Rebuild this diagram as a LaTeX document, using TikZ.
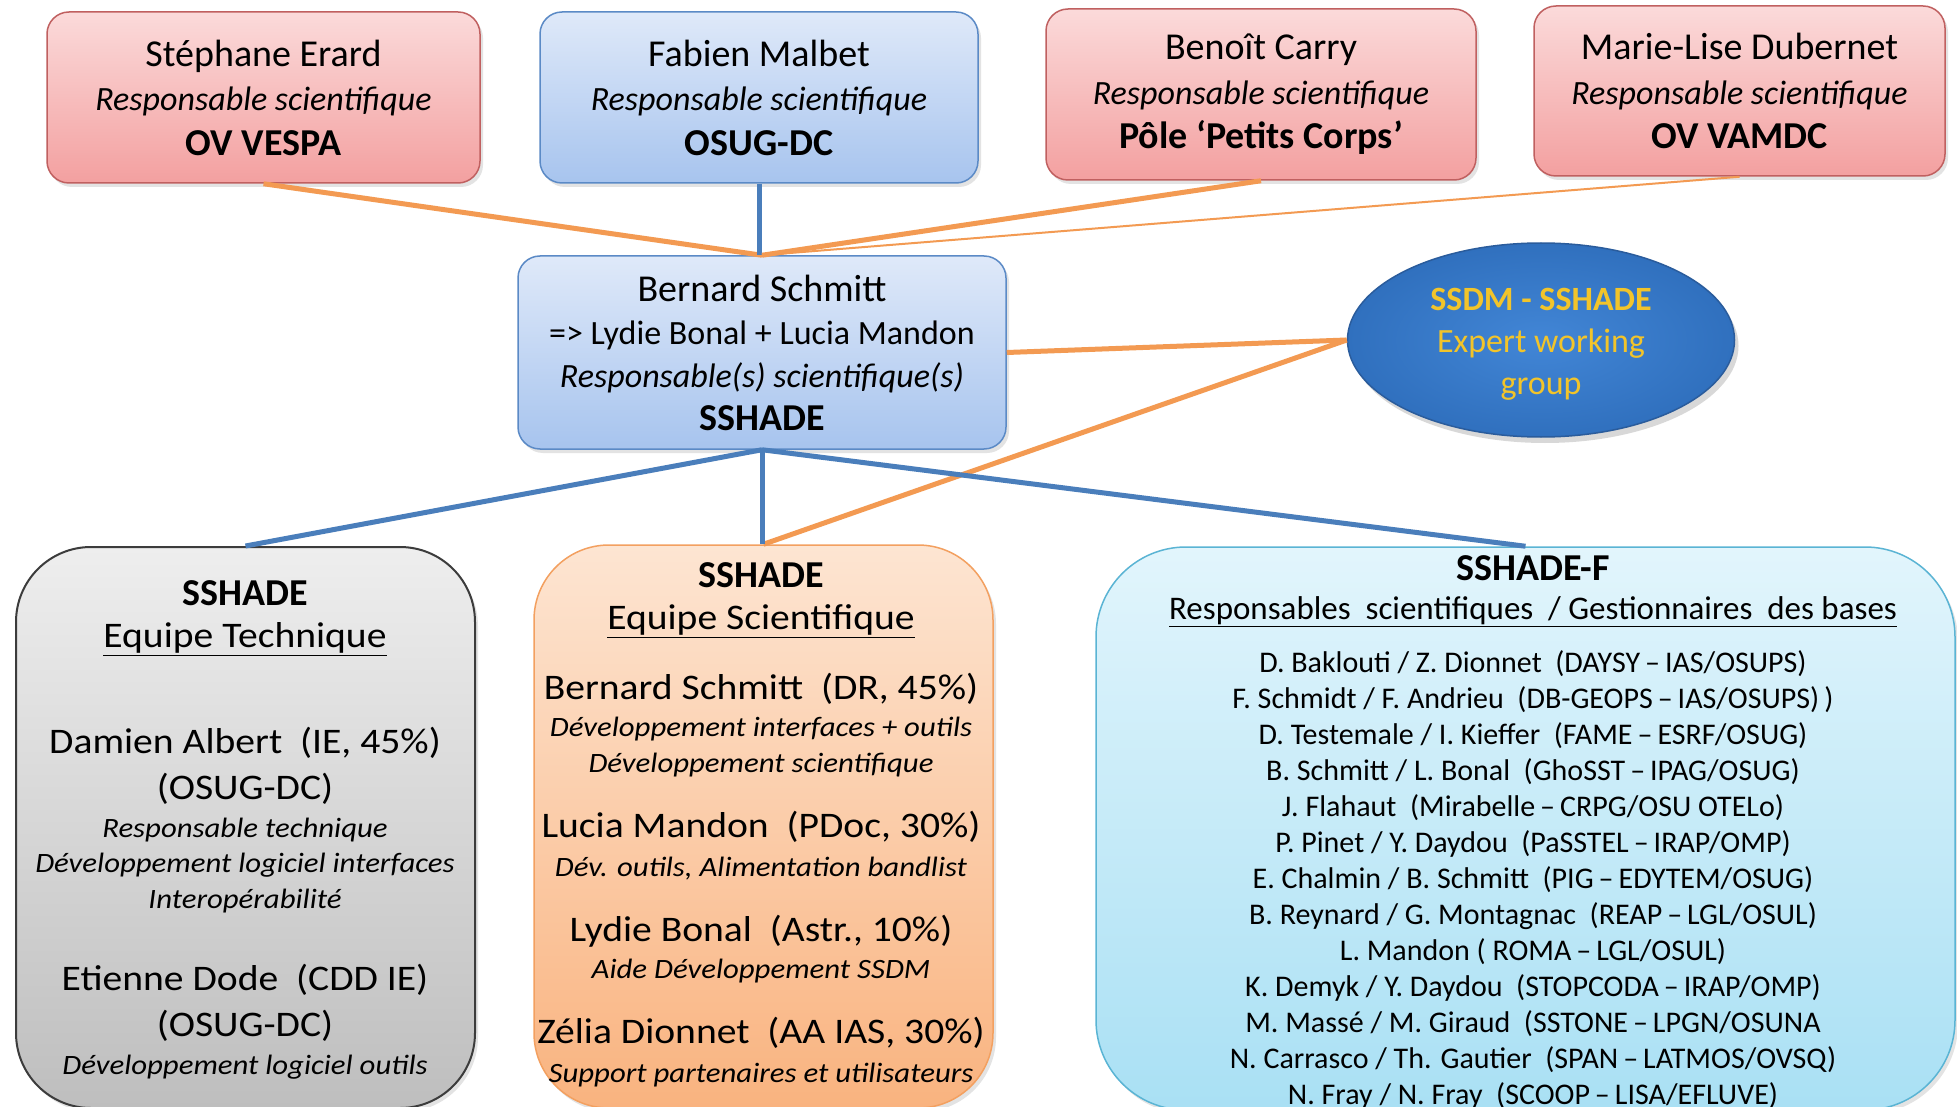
\documentclass[tikz,border=0pt]{standalone}
\usepackage{fontspec}
\setmainfont{Carlito}
\newfontfamily\widefont{Carlito}[FakeStretch=1.1]
\usetikzlibrary{shapes.geometric,shadows}
\definecolor{rtop}{HTML}{FBDADA}
\definecolor{rbot}{HTML}{F3A0A0}
\definecolor{rbd}{HTML}{C06060}
\definecolor{btop}{HTML}{DFE9F9}
\definecolor{bbot}{HTML}{A7C4EE}
\definecolor{bbd}{HTML}{5B8AC6}
\definecolor{gtop}{HTML}{EEEEEE}
\definecolor{gbot}{HTML}{BEBEBE}
\definecolor{gbd}{HTML}{3C3C3C}
\definecolor{otop}{HTML}{FDE5D2}
\definecolor{obot}{HTML}{F9B37F}
\definecolor{obd}{HTML}{F3A060}
\definecolor{ctop}{HTML}{E2F5FC}
\definecolor{cbot}{HTML}{A9E0F4}
\definecolor{cbd}{HTML}{5AB4D4}
\definecolor{ein}{HTML}{4286D6}
\definecolor{eout}{HTML}{3070BE}
\definecolor{ebd}{HTML}{2A5C9C}
\definecolor{gold}{HTML}{F2C42A}
\definecolor{oline}{HTML}{F39A52}
\definecolor{bline}{HTML}{4A7EBB}
\tikzset{
  box/.style={draw, line width=1.5pt, rounded corners=22pt, align=center, inner sep=0pt,
    drop shadow={opacity=0.22, shadow xshift=3pt, shadow yshift=-4pt}},
  redbox/.style={box, draw=rbd, top color=rtop, bottom color=rbot},
  bluebox/.style={box, draw=bbd, top color=btop, bottom color=bbot},
  bigbox/.style={box, rounded corners=75pt},
  ln/.style={inner sep=0pt, anchor=center},
  oconn/.style={draw=oline, line width=5pt},
  othin/.style={draw=oline, line width=2pt},
  bconn/.style={draw=bline, line width=5pt},
  topf/.style={font=\fontsize{38}{44.5}\selectfont},
  bigf/.style={font=\widefont\fontsize{36}{44}\selectfont},
  smallf/.style={font=\widefont\itshape\fontsize{28}{34}\selectfont},
  titf/.style={font=\bfseries\fontsize{38}{44}\selectfont},
  listf/.style={font=\fontsize{30}{34}\selectfont}
}
\newcommand{\rsit}[1]{{\fontsize{34}{44}\selectfont\itshape #1}}
\begin{document}
\begin{tikzpicture}[x=1pt,y=-1pt]
\useasboundingbox (0,0) rectangle (1957,1107);
\fill[white] (0,0) rectangle (1957,1107);
\clip (0,0) rectangle (1957,1107);

% top row
\node[redbox, minimum width=433pt, minimum height=171pt, topf] (se) at (263.5,97.5)
  {Stéphane Erard\\\rsit{Responsable scientifique}\\\textbf{OV VESPA}};
\node[bluebox, minimum width=438pt, minimum height=171pt, topf] (fm) at (759,97.5)
  {Fabien Malbet\\\rsit{Responsable scientifique}\\\textbf{OSUG-DC}};
\node[redbox, minimum width=430pt, minimum height=171pt, topf] (bc) at (1261,94.5)
  {Benoît Carry\\\rsit{Responsable scientifique}\\\textbf{Pôle ‘Petits Corps’}};
\node[redbox, minimum width=411pt, minimum height=170pt, topf] (md) at (1739.5,91)
  {Marie-Lise Dubernet\\\rsit{Responsable scientifique}\\\textbf{OV VAMDC}};

% middle
\node[bluebox, minimum width=488pt, minimum height=193pt, font=\fontsize{38}{43}\selectfont] (bs) at (762,352.5)
  {Bernard Schmitt\\{\fontsize{34}{43}\selectfont => Lydie Bonal + Lucia Mandon}\\\rsit{Responsable(s) scientifique(s)}\\\textbf{SSHADE}};
\node[ellipse, draw=ebd, line width=1.5pt, inner color=ein, outer color=eout, minimum width=387pt, minimum height=194pt,
  drop shadow={opacity=0.3, shadow xshift=4pt, shadow yshift=-6pt}] (ssdm) at (1541,340) {};
\node[align=center, text=gold, font=\fontsize{34}{42}\selectfont, inner sep=0pt] (ssdmtxt) at (1541,344)
  {\textbf{SSDM - SSHADE}\\Expert working\\group};

% bottom boxes
\node[bigbox, draw=gbd, line width=2pt, top color=gtop, bottom color=gbot, minimum width=459pt, minimum height=561pt] (tech) at (245.5,827.5) {};
\node[bigbox, draw=obd, top color=otop, bottom color=obot, minimum width=459pt, minimum height=563pt] (sci) at (763.5,826.5) {};
\node[bigbox, rounded corners=90pt, draw=cbd, top color=ctop, bottom color=cbot, minimum width=859pt, minimum height=563pt] (ssf) at (1525.5,828.5) {};

% connectors
\draw[oconn] (se.south) -- (bs.north);
\draw[bconn] (fm.south) -- (fm.south |- bs.north);
\draw[oconn] (bc.south) -- (bs.north);
\draw[othin] (md.south) -- (bs.north);
\draw[oconn] (bs.east) -- (ssdm.west);
\draw[oconn] (ssdm.west) -- (sci.north);
\draw[bconn] (bs.south) -- (tech.north);
\draw[bconn] (bs.south) -- (bs.south |- sci.north);
\draw[bconn] (bs.south) -- (ssf.north);

% technical team
\node[ln, titf] (tech1) at (245,593) {SSHADE};
\node[ln, bigf] (tech2) at (245,639) {\underline{Equipe Technique}};
\node[ln, bigf] (tech3) at (245,743) {Damien Albert\ \ (IE, 45\%)};
\node[ln, bigf] (tech4) at (245,789) {(OSUG-DC)};
\node[ln, smallf] (tech5) at (245,830) {Responsable technique};
\node[ln, smallf] (tech6) at (245,865) {Développement logiciel interfaces};
\node[ln, smallf] (tech7) at (245,901) {Interopérabilité};
\node[ln, bigf] (tech8) at (245,980) {Etienne Dode\ \ (CDD IE)};
\node[ln, bigf] (tech9) at (245,1026) {(OSUG-DC)};
\node[ln, smallf] (tech10) at (245,1067) {Développement logiciel outils};

% scientific team
\node[ln, titf] (sci1) at (761,575) {SSHADE};
\node[ln, bigf] (sci2) at (761,621) {\underline{Equipe Scientifique}};
\node[ln, bigf] (sci3) at (761,689) {Bernard Schmitt\ \ (DR, 45\%)};
\node[ln, smallf] (sci4) at (761,729) {Développement interfaces + outils};
\node[ln, smallf] (sci5) at (761,765) {Développement scientifique};
\node[ln, bigf] (sci6) at (761,827) {Lucia Mandon\ \ (PDoc, 30\%)};
\node[ln, smallf] (sci7) at (761,869) {Dév. outils,\ Alimentation bandlist};
\node[ln, bigf] (sci8) at (761,931) {Lydie Bonal\ \ (Astr., 10\%)};
\node[ln, smallf] (sci9) at (761,971) {Aide Développement SSDM};
\node[ln, bigf] (sci10) at (761,1033) {Zélia Dionnet\ \ (AA IAS, 30\%)};
\node[ln, smallf] (sci11) at (761,1075) {Support partenaires et utilisateurs};

% SSHADE-F
\node[ln, font=\bfseries\fontsize{38}{44}\selectfont] (ssf0) at (1533,568) {SSHADE-F};
\node[ln, font=\fontsize{33}{38}\selectfont] (ssf00) at (1533,612) {\underline{Responsables\ \ scientifiques\ \ /\ Gestionnaires\ \ des bases}};
\foreach \t [count=\i] in {
  {D. Baklouti / Z. Dionnet\ \ (DAYSY\,–\,IAS/OSUPS)},
  {F. Schmidt / F. Andrieu\ \ (DB-GEOPS\,–\,IAS/OSUPS)\,)},
  {D. Testemale / I. Kieffer\ \ (FAME\,–\,ESRF/OSUG)},
  {B. Schmitt / L. Bonal\ \ (GhoSST\,–\,IPAG/OSUG)},
  {J. Flahaut\ \ (Mirabelle\,–\,CRPG/OSU OTELo)},
  {P. Pinet / Y. Daydou\ \ (PaSSTEL\,–\,IRAP/OMP)},
  {E. Chalmin / B. Schmitt\ \ (PIG\,–\,EDYTEM/OSUG)},
  {B. Reynard / G. Montagnac\ \ (REAP\,–\,LGL/OSUL)},
  {L. Mandon ( ROMA\,–\,LGL/OSUL)},
  {K. Demyk / Y. Daydou\ \ (STOPCODA\,–\,IRAP/OMP)},
  {M. Massé / M. Giraud\ \ (SSTONE\,–\,LPGN/OSUNA},
  {N. Carrasco / Th. Gautier\ \ (SPAN\,–\,LATMOS/OVSQ)},
  {N. Fray / N. Fray\ \ (SCOOP\,–\,LISA/EFLUVE)}}
  \node[ln, listf] (ssfl\i) at (1533,{664+36*(\i-1)}) {\t};
\end{tikzpicture}
\end{document}
